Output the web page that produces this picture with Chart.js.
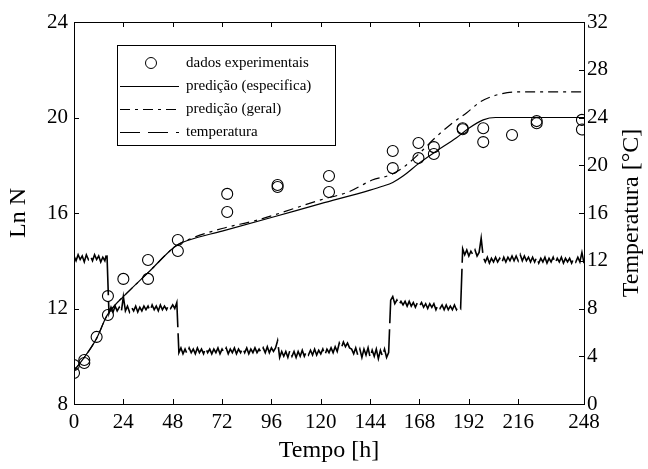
<!DOCTYPE html>
<html>
<head>
<meta charset="utf-8">
<script src="https://cdn.jsdelivr.net/npm/chart.js@4.4.0/dist/chart.umd.min.js"></script>
<style>
html,body{margin:0;padding:0;background:#fff;}
#wrap{width:648px;height:469px;}
</style>
</head>
<body>
<div id="wrap"><canvas id="c" width="648" height="469"></canvas></div>
<script>
// tick labels
const xTicks = [0, 24, 48, 72, 96, 120, 144, 168, 192, 216, 248];

// experimental points (Tempo [h], Ln N)
const expTime = [0, 0, 5, 5, 11, 16.5, 16.5, 24, 36, 36, 50.5, 50.5, 74.5, 74.5, 99, 99, 124, 124,
  155, 155, 167.5, 167.5, 175, 175, 189, 189, 199, 199, 213, 225, 225, 247, 247];
const expLnN = [9.63, 9.30, 9.84, 9.72, 10.81, 12.52, 11.73, 13.24, 14.03, 13.24, 14.87, 14.41, 16.80, 16.04, 17.17, 17.09, 17.55, 16.88,
  18.60, 17.88, 18.93, 18.30, 18.76, 18.47, 19.55, 19.51, 19.55, 18.97, 19.27, 19.85, 19.76, 19.90, 19.50];

// predicao (especifica)
const specTime = [0, 5, 11, 16, 20, 24, 36, 50, 56, 72, 96, 120, 144, 150, 155, 160, 168, 176, 186, 192, 199, 205, 248];
const specLnN = [9.4, 9.95, 10.75, 11.7, 12.15, 12.5, 13.5, 14.65, 14.87, 15.24, 15.81, 16.39, 16.96, 17.12, 17.28, 17.55, 18.1, 18.58, 19.15, 19.55, 19.9, 20.0, 20.0];

// predicao (geral)
const genTime = [0, 5, 11, 16, 20, 24, 36, 50, 56, 72, 89, 120, 134, 145, 154, 160, 168, 175, 183, 191, 197.5, 205, 215, 248];
const genLnN = [9.4, 9.95, 10.75, 11.7, 12.15, 12.5, 13.5, 14.65, 14.9, 15.35, 15.7, 16.55, 16.9, 17.38, 17.6, 17.9, 18.5, 19.1, 19.7, 20.2, 20.65, 20.93, 21.07, 21.07];

// temperatura [°C], one reading per hour from 0 h to 248 h
const tempHourly = [
  12.4, 12.0, 12.5, 12.1, 12.4, 11.9, 12.5, 12.1, 12.4, 12.0, 12.5, 12.1, 12.4, 11.9, 12.3, 12.0, 12.7,
  7.6, 8.1, 7.7, 8.2, 7.8, 8.1, 7.7, 9.0, 7.8, 8.2, 7.7, 8.1, 7.8, 8.2, 7.7, 8.1,
  7.8, 8.2, 7.9, 8.2, 7.8, 8.3, 7.9, 8.2, 7.8, 8.3, 7.9, 8.2, 7.9, 8.3, 8.0, 8.3, 8.0, 8.5,
  4.3, 4.7, 4.2, 4.6, 4.2, 4.7, 4.3, 4.6,
  4.2, 4.7, 4.3, 4.6, 4.2, 4.7, 4.3, 4.6,
  4.2, 4.6, 4.3, 4.7, 4.2, 4.6, 4.3, 4.7,
  4.2, 4.6, 4.3, 4.7, 4.2, 4.6, 4.3, 4.7,
  4.3, 4.7, 4.2, 4.6, 4.3, 4.7, 4.3, 4.6,
  4.3, 4.7, 4.3, 4.8, 4.3, 4.7, 4.4, 4.7,
  5.3,
  3.9, 4.4, 4.0, 4.4, 3.9, 4.5, 4.0, 4.4,
  3.9, 4.4, 4.0, 4.5, 4.0, 4.4, 4.1, 4.5,
  4.1, 4.6, 4.1, 4.5, 4.2, 4.6, 4.1, 4.6,
  4.3, 4.7, 4.3, 4.8, 4.4,
  5.1, 4.7, 5.2, 4.8, 5.1, 4.7,
  4.6, 4.2, 4.7, 4.1, 4.6, 3.9, 4.6, 4.1, 4.7, 3.9, 4.5, 4.0, 4.6, 3.8, 4.5, 4.0, 4.6, 3.9, 4.3,
  8.7, 9.0, 8.4, 8.7, 8.3, 8.6, 8.3, 8.6,
  8.2, 8.6, 8.2, 8.5, 8.1, 8.5, 8.2, 8.5,
  8.1, 8.4, 8.0, 8.4, 8.1, 8.4, 7.9, 8.3,
  8.0, 8.3, 7.9, 8.3, 7.9, 8.2, 7.9, 8.3,
  7.9, 8.2, 8.0,
  13.0, 12.5, 12.9, 12.4, 12.8, 12.5, 12.9, 12.4, 12.7,
  13.9,
  12.3, 11.9, 12.3, 11.8, 12.2, 11.9, 12.3, 11.9,
  12.2, 11.8, 12.3, 11.9, 12.3, 12.0, 12.4, 12.0,
  12.4, 12.0, 12.5, 12.0, 12.4, 12.0, 12.3, 11.9,
  12.3, 11.9, 12.3, 11.8, 12.2, 11.9, 12.3, 11.8,
  12.2, 11.9, 12.3, 11.8, 12.2, 11.9, 12.3, 11.8,
  12.2, 11.9, 12.2, 11.8, 12.2, 11.9, 12.3, 11.9,
  12.7, 11.8
];

const serif = "'Liberation Serif', 'Times New Roman', serif";

function pairs(xs, ys) {
  return xs.map((x, i) => ({x: x, y: ys[i]}));
}

const legendRows = [
  {label: 'dados experimentais', kind: 'circle'},
  {label: 'predição (especifica)', dash: []},
  {label: 'predição (geral)', dash: [10, 5, 3, 5]},
  {label: 'temperatura', dash: [20, 8]}
];

// box, inward ticks, right title and legend
const framePlugin = {
  id: 'frame',
  afterDraw(chart) {
    const ctx = chart.ctx;
    const a = chart.chartArea;
    const sx = chart.scales.x, sy = chart.scales.y, sy2 = chart.scales.y2;
    ctx.save();
    ctx.strokeStyle = '#000';
    ctx.lineWidth = 1;
    ctx.strokeRect(Math.round(a.left) + 0.5, Math.round(a.top) + 0.5, Math.round(a.right - a.left), Math.round(a.bottom - a.top));
    ctx.beginPath();
    const tl = 5;
    sx.ticks.forEach(t => {
      const px = Math.round(sx.getPixelForValue(t.value)) + 0.5;
      ctx.moveTo(px, a.bottom); ctx.lineTo(px, a.bottom - tl);
      ctx.moveTo(px, a.top); ctx.lineTo(px, a.top + tl);
    });
    sy.ticks.forEach(t => {
      const py = Math.round(sy.getPixelForValue(t.value)) + 0.5;
      ctx.moveTo(a.left, py); ctx.lineTo(a.left + tl, py);
    });
    sy2.ticks.forEach(t => {
      const py = Math.round(sy2.getPixelForValue(t.value)) + 0.5;
      ctx.moveTo(a.right, py); ctx.lineTo(a.right - tl, py);
    });
    ctx.stroke();

    // right axis title, reading upwards
    ctx.save();
    ctx.translate(632, (a.top + a.bottom) / 2);
    ctx.rotate(-Math.PI / 2);
    ctx.font = '24px ' + serif;
    ctx.fillStyle = '#000';
    ctx.textAlign = 'center';
    ctx.textBaseline = 'middle';
    ctx.fillText('Temperatura [°C]', 0, 0);
    ctx.restore();

    // legend
    const bx = 117, by = 45, bw = 218, bh = 100;
    ctx.fillStyle = '#fff';
    ctx.fillRect(bx, by, bw, bh);
    ctx.strokeRect(bx + 0.5, by + 0.5, bw, bh);
    ctx.font = '15px ' + serif;
    ctx.fillStyle = '#000';
    ctx.textAlign = 'left';
    ctx.textBaseline = 'middle';
    legendRows.forEach((r, i) => {
      const y = 63 + i * 23;
      if (r.kind === 'circle') {
        ctx.beginPath();
        ctx.setLineDash([]);
        ctx.arc(151, y, 5.5, 0, Math.PI * 2);
        ctx.stroke();
      } else {
        ctx.beginPath();
        ctx.setLineDash(r.dash);
        ctx.moveTo(120, y + 0.5);
        ctx.lineTo(179, y + 0.5);
        ctx.stroke();
        ctx.setLineDash([]);
      }
      ctx.fillText(r.label, 186, y);
    });
    ctx.restore();
  }
};

new Chart(document.getElementById('c'), {
  type: 'line',
  data: {
    datasets: [
      {
        label: 'temperatura',
        data: tempHourly.map((v, i) => ({x: i, y: v})),
        yAxisID: 'y2',
        borderColor: '#000',
        borderWidth: 1.6,
        borderDash: [40, 6],
        pointRadius: 0,
        tension: 0
      },
      {
        label: 'predição (especifica)',
        data: pairs(specTime, specLnN),
        yAxisID: 'y',
        borderColor: '#000',
        borderWidth: 1.2,
        pointRadius: 0,
        cubicInterpolationMode: 'monotone'
      },
      {
        label: 'predição (geral)',
        data: pairs(genTime, genLnN),
        yAxisID: 'y',
        borderColor: '#000',
        borderWidth: 1.2,
        borderDash: [10, 5, 3, 5],
        pointRadius: 0,
        cubicInterpolationMode: 'monotone'
      },
      {
        label: 'dados experimentais',
        data: pairs(expTime, expLnN),
        yAxisID: 'y',
        showLine: false,
        pointStyle: 'circle',
        pointRadius: 5.5,
        pointBorderWidth: 1.1,
        pointBorderColor: '#000',
        pointBackgroundColor: 'rgba(0,0,0,0)'
      }
    ]
  },
  options: {
    responsive: false,
    devicePixelRatio: 1,
    animation: false,
    layout: {padding: {top: 22, left: 0, right: 0, bottom: 0}},
    plugins: {legend: {display: false}, tooltip: {enabled: false}},
    scales: {
      x: {
        type: 'linear',
        position: 'bottom',
        min: 0,
        max: 248,
        afterBuildTicks: s => { s.ticks = xTicks.map(v => ({value: v})); },
        afterFit: s => { s.height = 65; },
        grid: {display: false, drawTicks: false},
        border: {display: false},
        ticks: {color: '#000', font: {family: serif, size: 21}, padding: 6, maxRotation: 0, autoSkip: false},
        title: {display: true, text: 'Tempo [h]', color: '#000', font: {family: serif, size: 24}, padding: {top: 4, bottom: 4}}
      },
      y: {
        position: 'left',
        min: 8,
        max: 24,
        afterFit: s => { s.width = 74; },
        grid: {display: false, drawTicks: false},
        border: {display: false},
        ticks: {stepSize: 4, color: '#000', font: {family: serif, size: 21}, padding: 6},
        title: {display: true, text: 'Ln N', color: '#000', font: {family: serif, size: 24}, padding: {top: 4, bottom: 4}}
      },
      y2: {
        position: 'right',
        min: 0,
        max: 32,
        afterFit: s => { s.width = 64; },
        grid: {display: false, drawTicks: false},
        border: {display: false},
        ticks: {stepSize: 4, color: '#000', font: {family: serif, size: 21}, padding: 3}
      }
    }
  },
  plugins: [framePlugin]
});
</script>
</body>
</html>
